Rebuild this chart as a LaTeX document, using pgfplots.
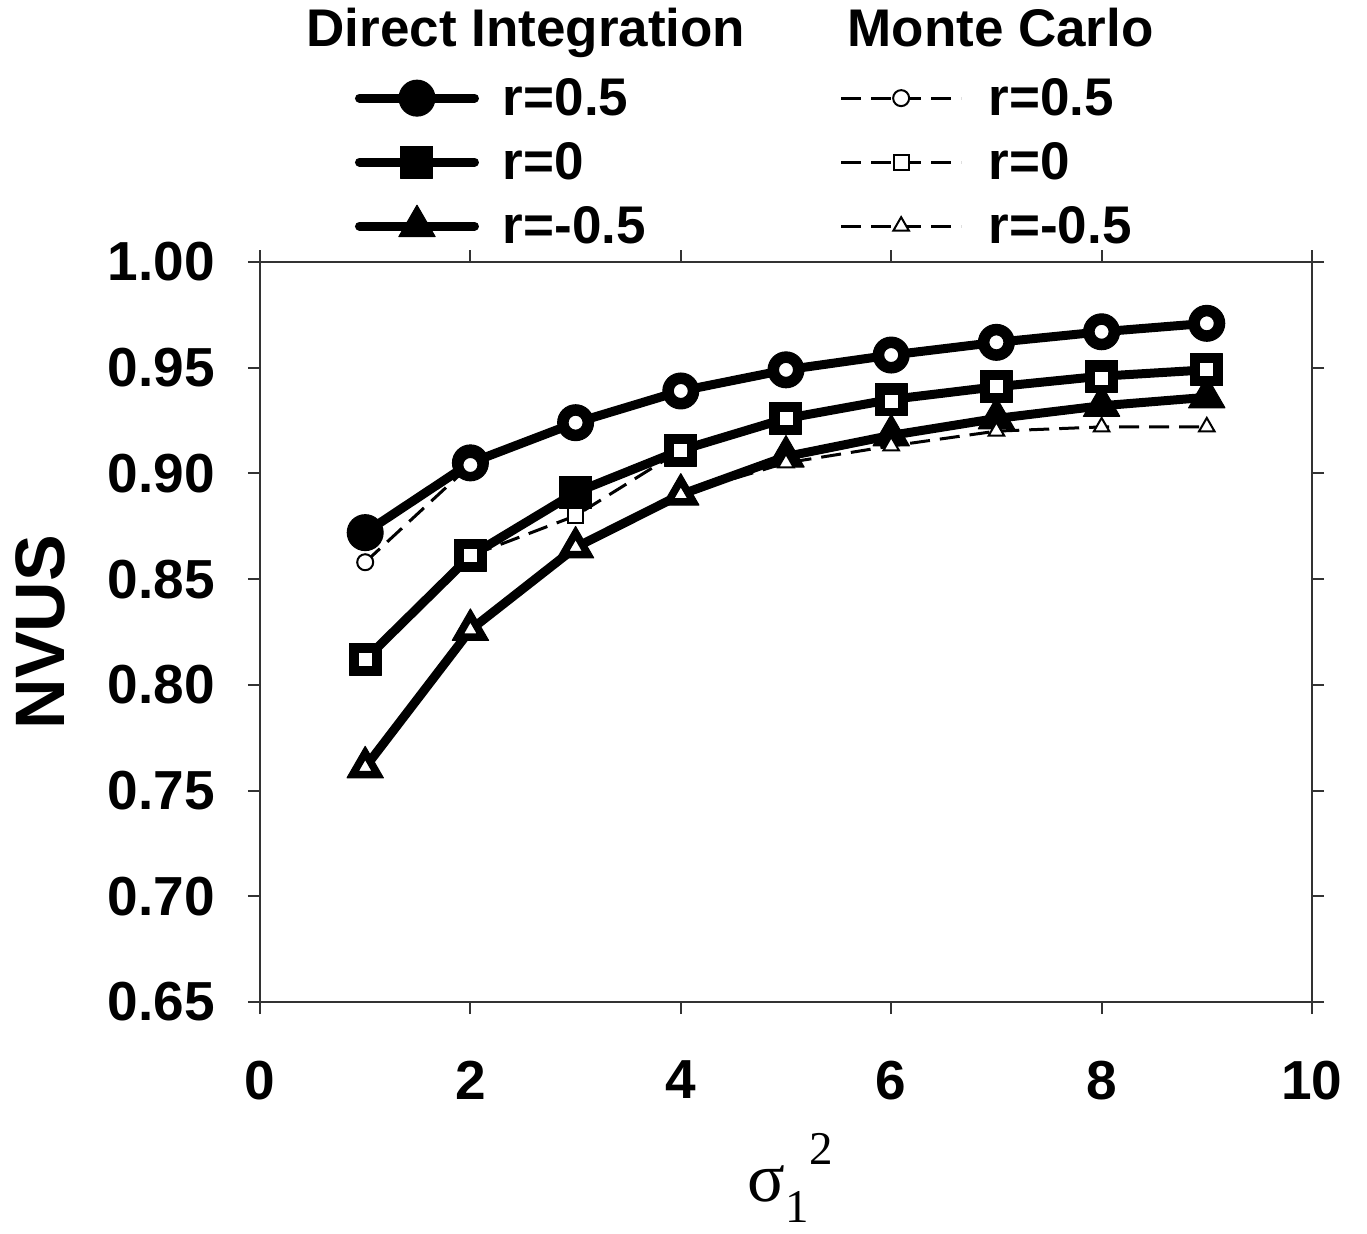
\documentclass[border=0pt]{standalone}
\usepackage{fontspec}
\setmainfont{Liberation Sans}
\newfontfamily\timesfont{Liberation Serif}
\usepackage{pgfplots}
\pgfplotsset{compat=1.18}
\begin{document}
\begin{tikzpicture}
\useasboundingbox (-130pt,-115.5pt) rectangle (553.5pt,501pt);
\pgfplotsset{
  common/.style={
    width=526pt, height=370pt, scale only axis,
    xmin=0, xmax=10, ymin=0.65, ymax=1.00,
    clip=false,
  },
  DI/.style={black, line width=4.5pt, line cap=round, line join=round, mark options={solid, fill=black, line width=0.5pt}},
  MC/.style={black, line width=1.5pt, dash pattern=on 10pt off 5pt, mark options={solid, fill=white, line width=1pt}},
}
\begin{axis}[common,
  axis line style={black!80, line width=1pt},
  tick style={black!80, line width=1pt},
  tick align=outside, major tick length=6pt,
  xtick={0,2,4,6,8,10}, ytick={0.65,0.70,0.75,0.80,0.85,0.90,0.95,1.00},
  yticklabel style={/pgf/number format/.cd, fixed, fixed zerofill, precision=2, /tikz/.cd, xshift=-13pt},
  xticklabel style={yshift=-20pt},
  /pgf/number format/assume math mode=true,
  ticklabel style={font=\fontsize{27.5}{33}\selectfont\bfseries},
  ylabel={NVUS},
  ylabel style={at={(axis description cs:-0.209,0.5)}, anchor=center, font=\fontsize{35}{42}\selectfont\bfseries},
  xlabel={\timesfont\fontsize{35}{40}\selectfont σ\raisebox{-10.5pt}{\fontsize{23.5}{28}\selectfont 1}\raisebox{18.5pt}{\fontsize{23.5}{28}\selectfont 2}},
  xlabel style={at={(axis description cs:0.504,-0.238)}, anchor=center},
  legend style={draw=none, fill=none, inner sep=0pt, outer sep=0pt, row sep=8pt,
    at={(axis description cs:0.0903,1.016)}, anchor=south west,
    font=\fontsize{26.5}{31}\selectfont\bfseries},
  legend cell align=left,
  legend image code/.code={\draw[mark repeat=2,mark phase=2] plot coordinates {(0pt,0pt) (28.75pt,0pt) (57.5pt,0pt)}; \path (67.5pt,0pt);},
]
\addlegendimage{empty legend}
\addlegendentry{\raisebox{2.5pt}{\hspace*{11.5pt}\makebox[0pt][c]{Direct Integration}}}
\addplot[DI, mark=*, mark size=9pt] coordinates {
(1,0.872) (2,0.905) (3,0.924) (4,0.939) (5,0.949) (6,0.956) (7,0.962) (8,0.967) (9,0.971)};
\addlegendentry{r=0.5}
\addplot[DI, mark=square*, mark size=8pt] coordinates {
(1,0.812) (2,0.861) (3,0.891) (4,0.911) (5,0.926) (6,0.935) (7,0.941) (8,0.946) (9,0.949)};
\addlegendentry{r=0}
\addplot[DI, mark=triangle*, mark size=10.5pt] coordinates {
(1,0.761) (2,0.826) (3,0.865) (4,0.890) (5,0.908) (6,0.918) (7,0.926) (8,0.932) (9,0.936)};
\addlegendentry{r=-0.5}
\end{axis}
\begin{axis}[common, hide axis,
  legend style={draw=none, fill=none, inner sep=0pt, outer sep=0pt, row sep=8pt,
    at={(axis description cs:0.551,1.016)}, anchor=south west,
    font=\fontsize{26.5}{31}\selectfont\bfseries},
  legend cell align=left,
  legend image code/.code={\draw[mark repeat=2,mark phase=2] plot coordinates {(0pt,0pt) (30pt,0pt) (60pt,0pt)}; \path (71pt,0pt);},
]
\addlegendimage{empty legend}
\addlegendentry{\raisebox{2.5pt}{\hspace*{6pt}\makebox[0pt][c]{Monte Carlo}}}
\addplot[MC, mark=*, mark size=4pt] coordinates {
(1,0.858) (2,0.904) (3,0.924) (4,0.939) (5,0.949) (6,0.956) (7,0.962) (8,0.967) (9,0.971)};
\addlegendentry{r=0.5}
\addplot[MC, mark=square*, mark size=3.75pt] coordinates {
(1,0.812) (2,0.861) (3,0.880) (4,0.911) (5,0.926) (6,0.934) (7,0.941) (8,0.945) (9,0.949)};
\addlegendentry{r=0}
\addplot[MC, mark=triangle*, mark size=4.5pt] coordinates {
(1,0.761) (2,0.826) (3,0.865) (4,0.890) (5,0.905) (6,0.913) (7,0.920) (8,0.922) (9,0.922)};
\addlegendentry{r=-0.5}
\end{axis}
\end{tikzpicture}
\end{document}
